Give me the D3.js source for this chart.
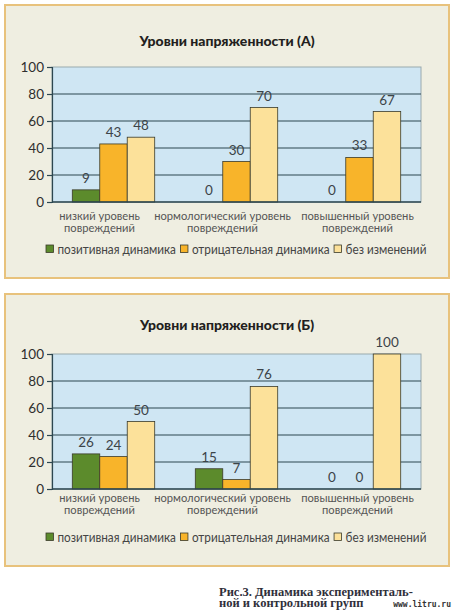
<!DOCTYPE html>
<html>
<head>
<meta charset="utf-8">
<script src="https://cdn.jsdelivr.net/npm/d3@7"></script>
<style>
  body { margin: 0; background: #fff; }
  svg { display: block; }
</style>
</head>
<body>
<svg id="chart" width="454" height="610"></svg>
<script>
// categories and series
var categories = [
    ["низкий уровень", "повреждений"],
    ["нормологический уровень", "повреждений"],
    ["повышенный уровень", "повреждений"]
];
var seriesNames = ["позитивная динамика", "отрицательная динамика", "без изменений"];
var seriesColors = ["#5c8b2c", "#f8b42a", "#fce19a"];
var yTicks = [0, 20, 40, 60, 80, 100];

// panel A
var titleA = "Уровни напряженности (А)";
var positiveA = [9, 0, 0];
var negativeA = [43, 30, 33];
var unchangedA = [48, 70, 67];

// panel B
var titleB = "Уровни напряженности (Б)";
var positiveB = [26, 15, 0];
var negativeB = [24, 7, 0];
var unchangedB = [50, 76, 100];

var captionLines = ["Рис.3. Динамика  эксперименталь-", "ной и контрольной групп"];
var watermark = "www.litru.ru";

var svg = d3.select("#chart");
var font = "Lato, 'Open Sans', sans-serif";
var catShift = [-14, -14, -2];   // excel did not center the wrapped labels exactly

// squeeze text (the original uses a condensed face), returns the new width
function condense(node, k) {
    var w = node.getComputedTextLength() * k;
    d3.select(node).attr("textLength", w).attr("lengthAdjust", "spacingAndGlyphs");
    return w;
}

function drawPanel(title, series, box) {
    var g = svg.append("g");

    // outer panel
    g.append("rect")
        .attr("x", box.x).attr("y", box.y)
        .attr("width", box.w).attr("height", box.h)
        .attr("fill", "#efeee1")
        .attr("stroke", "#e8c27c")
        .attr("stroke-width", 2);

    g.append("text")
        .attr("x", box.x + box.w / 2)
        .attr("y", box.titleY)
        .attr("text-anchor", "middle")
        .attr("dominant-baseline", "central")
        .style("font-family", font)
        .style("font-weight", "900")
        .style("font-size", "14px")
        .style("fill", "#231f20")
        .text(title);

    var xScale = d3.scaleBand()
        .domain(d3.range(categories.length))
        .range([box.plotLeft, box.plotRight])
        .paddingInner(0.33)
        .paddingOuter(0.165);

    var xInner = d3.scaleBand()
        .domain(d3.range(seriesNames.length))
        .range([0, xScale.bandwidth()]);

    var yScale = d3.scaleLinear()
        .domain([0, 100])
        .range([box.plotBottom, box.plotTop]);

    // plot background
    g.append("rect")
        .attr("x", box.plotLeft).attr("y", box.plotTop)
        .attr("width", box.plotRight - box.plotLeft)
        .attr("height", box.plotBottom - box.plotTop)
        .attr("fill", "#cfe6f3")
        .attr("stroke", "#9aa9ae")
        .attr("stroke-width", 1);

    // grid lines
    g.selectAll(".grid")
        .data(yTicks.slice(1, -1))
        .enter().append("line")
        .attr("x1", box.plotLeft).attr("x2", box.plotRight)
        .attr("y1", function(d) { return yScale(d); })
        .attr("y2", function(d) { return yScale(d); })
        .attr("stroke", "#2d4750")
        .attr("stroke-width", 1.2);

    // bars
    var bars = [];
    series.forEach(function(vals, s) {
        vals.forEach(function(v, c) {
            bars.push({ c: c, s: s, v: v });
        });
    });

    g.selectAll(".bar")
        .data(bars.filter(function(d) { return d.v > 0; }))
        .enter().append("rect")
        .attr("x", function(d) { return xScale(d.c) + xInner(d.s); })
        .attr("y", function(d) { return yScale(d.v); })
        .attr("width", xInner.bandwidth())
        .attr("height", function(d) { return yScale(0) - yScale(d.v); })
        .attr("fill", function(d) { return seriesColors[d.s]; })
        .attr("stroke", "#3a3a2a")
        .attr("stroke-width", 0.8);

    g.selectAll(".val")
        .data(bars)
        .enter().append("text")
        .attr("x", function(d) { return xScale(d.c) + xInner(d.s) + xInner.bandwidth() / 2; })
        .attr("y", function(d) { return yScale(d.v) - 7; })
        .attr("text-anchor", "middle")
        .style("font-family", font)
        .style("font-size", "13.5px")
        .style("fill", "#3c4448")
        .text(function(d) { return d.v; });

    // y axis
    var yAxis = d3.axisLeft(yScale)
        .tickValues(yTicks)
        .tickSize(5)
        .tickPadding(3);

    var ay = g.append("g")
        .attr("transform", "translate(" + box.plotLeft + ",0)")
        .call(yAxis);
    ay.select(".domain").attr("stroke", "#2d4750").attr("stroke-width", 1.2);
    ay.selectAll(".tick line").attr("stroke", "#2d4750").attr("stroke-width", 1.2);
    ay.selectAll(".tick text")
        .style("font-family", font)
        .style("font-size", "13.5px")
        .style("fill", "#2e2e2e");

    // baseline
    g.append("line")
        .attr("x1", box.plotLeft).attr("x2", box.plotRight)
        .attr("y1", yScale(0)).attr("y2", yScale(0))
        .attr("stroke", "#2d4750")
        .attr("stroke-width", 1.4);

    // category labels, two lines in one text, squeezed sideways
    categories.forEach(function(lines, i) {
        var cx = xScale(i) + xScale.bandwidth() / 2 + catShift[i];
        g.append("text")
            .attr("transform", "translate(" + cx + "," + box.catY + ") scale(0.93,1)")
            .attr("text-anchor", "middle")
            .style("font-family", font)
            .style("font-size", "12px")
            .style("fill", "#555")
            .selectAll("tspan")
            .data(lines)
            .enter().append("tspan")
            .attr("x", 0)
            .attr("y", function(d, j) { return j * 11.5; })
            .attr("dominant-baseline", "central")
            .text(function(d) { return d; });
    });

    // legend
    var lx = box.legendX;
    seriesNames.forEach(function(name, i) {
        g.append("rect")
            .attr("x", lx).attr("y", box.legendY - 4)
            .attr("width", 7.5).attr("height", 7.5)
            .attr("fill", seriesColors[i])
            .attr("stroke", "#3a3a2a")
            .attr("stroke-width", 0.8);
        var t = g.append("text")
            .attr("x", lx + 11.5)
            .attr("y", box.legendY)
            .attr("dominant-baseline", "central")
            .style("font-family", font)
            .style("font-size", "12.5px")
            .style("fill", "#444")
            .text(name);
        var w = condense(t.node(), 0.94);
        lx += 11.5 + w + 4.5;
    });
}

drawPanel(titleA, [positiveA, negativeA, unchangedA], {
    x: 5, y: 5, w: 444, h: 273,
    titleY: 40, plotLeft: 52, plotRight: 421, plotTop: 67, plotBottom: 202,
    catY: 215.5, legendX: 46, legendY: 249
});

drawPanel(titleB, [positiveB, negativeB, unchangedB], {
    x: 5, y: 294, w: 444, h: 272,
    titleY: 324, plotLeft: 52, plotRight: 421, plotTop: 354, plotBottom: 489,
    catY: 497.5, legendX: 46, legendY: 537
});

// caption
svg.append("text")
    .attr("x", 219)
    .attr("y", 592)
    .attr("dominant-baseline", "central")
    .style("font-family", "'Liberation Serif', 'DejaVu Serif', serif")
    .style("font-weight", "bold")
    .style("font-size", "12.5px")
    .style("fill", "#2f2f3a")
    .selectAll("tspan")
    .data(captionLines)
    .enter().append("tspan")
    .attr("x", 219)
    .attr("dy", function(d, i) { return i === 0 ? 0 : 11; })
    .text(function(d) { return d; });

svg.append("text")
    .attr("x", 451)
    .attr("y", 604)
    .attr("text-anchor", "end")
    .attr("dominant-baseline", "central")
    .style("font-family", "'DejaVu Sans Mono', monospace")
    .style("font-weight", "bold")
    .style("font-size", "8px")
    .style("fill", "#333")
    .text(watermark);
</script>
</body>
</html>
